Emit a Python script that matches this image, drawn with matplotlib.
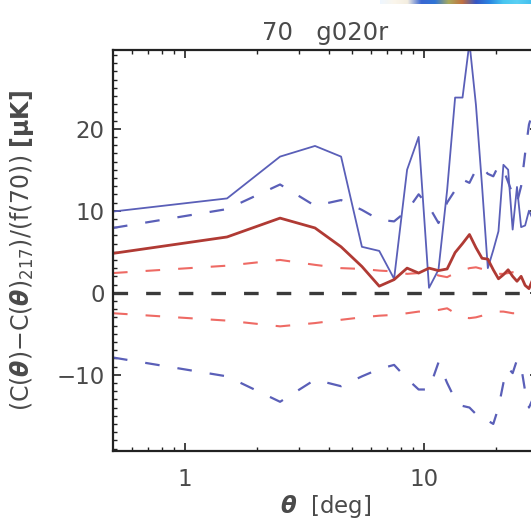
import numpy as np
import matplotlib
matplotlib.use("Agg")
import matplotlib.pyplot as plt
from matplotlib.ticker import FixedLocator, MultipleLocator, NullFormatter
from matplotlib.colors import LinearSegmentedColormap

plt.rcParams['font.family'] = ['DejaVu Sans']
plt.rcParams['mathtext.fontset'] = 'custom'
plt.rcParams['mathtext.rm'] = 'DejaVu Sans'
plt.rcParams['mathtext.it'] = 'DejaVu Sans:italic'
plt.rcParams['mathtext.bf'] = 'DejaVu Sans:bold'
plt.rcParams['mathtext.bfit'] = 'DejaVu Sans:bold:italic'
plt.rcParams['lines.scale_dashes'] = False

# angular bins (deg)
theta = [0.5, 1.5, 2.5, 3.5, 4.5, 5.5, 6.5, 7.5, 8.5, 9.5,
         10.5, 11.5, 12.5, 13.5, 14.5, 15.5, 16.5, 17.5, 18.5, 19.5,
         20.5, 21.5, 22.5, 23.5, 24.5, 25.5, 26.5, 27.5, 28.5, 29.5]

# blue: difference map, solid = data, dashed = envelope
blue_data = [9.9, 11.5, 16.6, 17.9, 16.6, 5.6, 5.1, 1.7, 15.0, 19.0,
             0.6, 2.8, 12.5, 23.8, 23.8, 30.5, 22.9, 13.0, 3.0, 5.2,
             7.5, 15.6, 15.0, 7.7, 12.9, 8.0, 8.2, 10.0, 9.0, 11.0]
blue_upper = [7.9, 10.2, 13.2, 10.6, 11.3, 10.1, 8.9, 8.7, 10.0, 12.0,
              10.5, 8.5, 11.0, 12.5, 13.8, 13.4, 15.0, 15.3, 14.5, 14.2,
              15.5, 15.0, 13.5, 12.0, 11.0, 13.0, 17.0, 20.5, 22.0, 21.0]
blue_lower = [-7.9, -10.2, -13.3, -10.6, -11.4, -10.2, -9.3, -8.8, -10.5, -11.8,
              -11.8, -8.5, -11.0, -13.0, -13.8, -14.0, -14.8, -15.5, -15.6, -16.0,
              -14.0, -11.0, -9.2, -9.8, -8.2, -9.0, -12.0, -14.0, -13.0, -12.0]

# red: scaled map, solid = data, dashed = envelope
red_data = [4.8, 6.8, 9.1, 7.9, 5.6, 3.2, 0.8, 1.6, 3.0, 2.4,
            3.0, 2.7, 2.9, 4.9, 6.0, 7.1, 5.5, 4.2, 4.1, 2.8,
            1.7, 2.2, 2.8, 2.0, 1.4, 2.0, 0.9, 0.5, 1.6, 1.2]
red_upper = [2.4, 3.3, 4.0, 3.4, 3.0, 2.9, 2.7, 2.6, 2.3, 2.4,
             2.6, 2.1, 1.9, 2.4, 2.7, 3.0, 3.1, 2.9, 2.6, 2.5,
             2.3, 2.3, 2.4, 2.5, 2.5, 2.4, 2.3, 2.3, 2.4, 2.5]
red_lower = [-2.5, -3.4, -4.1, -3.7, -3.3, -3.0, -2.8, -2.7, -2.5, -2.3,
             -2.3, -2.1, -1.9, -2.5, -3.0, -3.1, -3.0, -2.8, -2.6, -2.4,
             -2.3, -2.3, -2.4, -2.5, -2.5, -2.4, -2.3, -2.3, -2.4, -2.5]

x_major = [1, 10]
x_minor = [0.6, 0.7, 0.8, 0.9, 2, 3, 4, 5, 6, 7, 8, 9, 20, 30]
y_major = [-10, 0, 10, 20]

# strip of the neighbouring colour map panel
strip_colors = ['#eef6ff', '#fbf6ec', '#f4eee0', '#3a66d2', '#2f74d6',
                '#a8aa5c', '#c27040', '#3556c4', '#2a86e2', '#48c6f0',
                '#5ad0f4', '#44c0ee']

W, H = 531, 521
fig = plt.figure(figsize=(W / 100, H / 100), dpi=100)
ax = fig.add_axes([113 / W, 1 - 451 / H, (538 - 113) / W, (451 - 50) / H])

dash = (0, (10.5, 13.0))
blue = '#5a5fb8'
red_dark = '#b03a34'
red_light = '#ee6a64'

ax.plot(theta, red_upper, color=red_light, lw=1.5, ls=dash)
ax.plot(theta, red_lower, color=red_light, lw=1.5, ls=dash)
ax.plot(theta, blue_upper, color=blue, lw=1.6, ls=dash)
ax.plot(theta, blue_lower, color=blue, lw=1.6, ls=dash)
ax.plot(theta, blue_data, color=blue, lw=1.3)
ax.plot(theta, red_data, color=red_dark, lw=2.0)
ax.axhline(0, color='#3a3a3a', lw=2.4, ls=dash)

ax.set_xscale('log')
ax.set_xlim(0.5, 30)
ax.set_ylim(-19.3, 29.6)

ax.xaxis.set_major_locator(FixedLocator(x_major))
ax.xaxis.set_minor_locator(FixedLocator(x_minor))
ax.xaxis.set_minor_formatter(NullFormatter())
ax.set_xticklabels(['1', '10'])
ax.yaxis.set_major_locator(FixedLocator(y_major))
ax.yaxis.set_minor_locator(MultipleLocator(1))

txt = '#4a4a4a'
ax.tick_params(which='both', direction='in', top=True, right=True,
               color='#222222', labelcolor=txt, labelsize=16.5)
ax.tick_params(which='major', length=6, width=1.2)
ax.tick_params(which='minor', length=3, width=1.0)
ax.tick_params(axis='x', which='major', pad=12)
ax.tick_params(axis='y', which='major', pad=6)
for s in ax.spines.values():
    s.set_linewidth(1.6)
    s.set_color('#222222')

ax.set_title('70   g020r', fontsize=17.5, color=txt, pad=7)
ax.set_xlabel(r'$\mathbfit{\theta}$  [deg]', fontsize=16.5, color=txt, labelpad=2)
ax.set_ylabel(r'(C($\mathbfit{\theta}$)$-$C($\mathbfit{\theta}$)$_{217}$)/(f(70)) '
              r'$\mathbf{[\mu K]}$', fontsize=17, color=txt)
ax.yaxis.set_label_coords(-(113 - 36) / (538 - 113), 0.5)

cmap = LinearSegmentedColormap.from_list('strip', strip_colors)
sax = fig.add_axes([380 / W, 1 - 4 / H, 151 / W, 4 / H])
sax.imshow(np.linspace(0, 1, 256)[None, :], aspect='auto', cmap=cmap)
sax.set_axis_off()

fig.savefig('out.png', dpi=100)
